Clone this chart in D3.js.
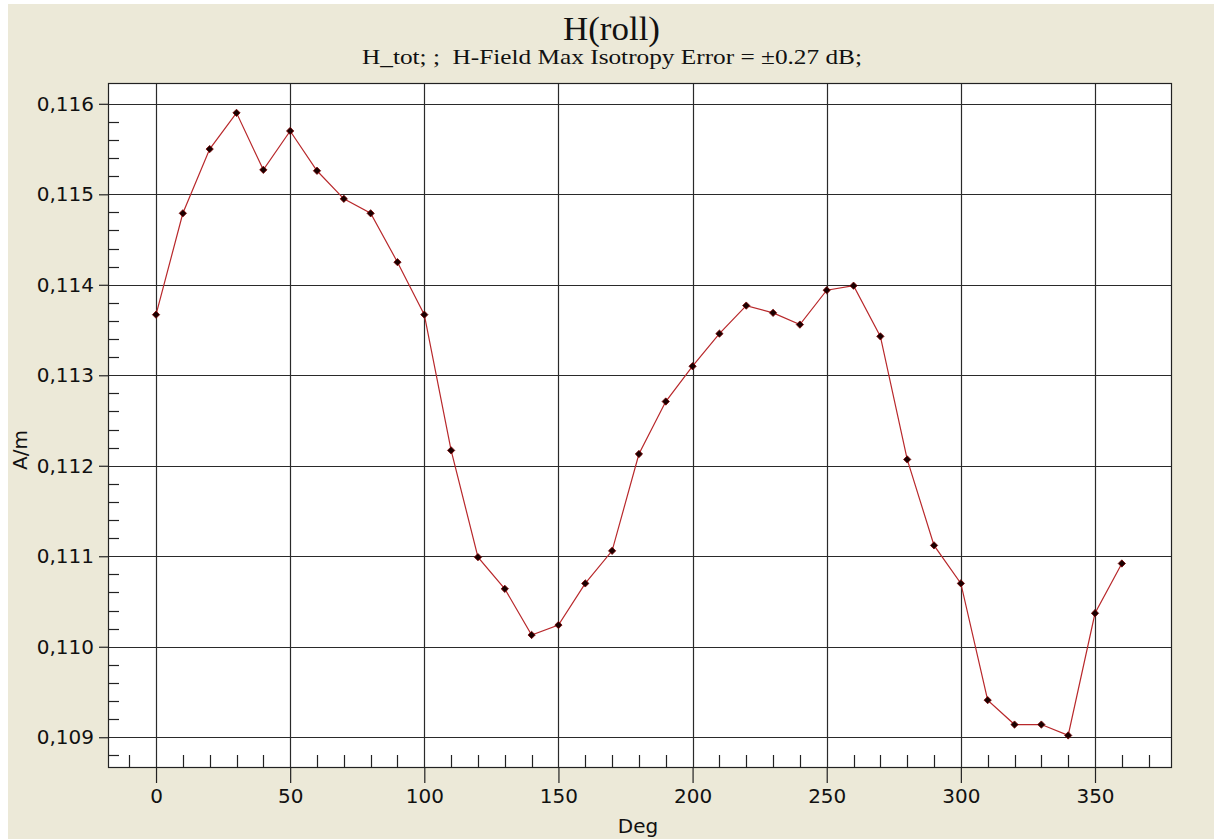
<!DOCTYPE html>
<html><head><meta charset="utf-8">
<script src="https://cdn.jsdelivr.net/npm/d3@7"></script>
<style>
html,body{margin:0;padding:0;background:#fff;}
svg{display:block;}
</style></head>
<body>
<script>
const degrees = [0,10,20,30,40,50,60,70,80,90,100,110,120,130,140,150,160,170,180,190,200,210,220,230,240,250,260,270,280,290,300,310,320,330,340,350,360];
const hValues = [0.11367,0.11479,0.11550,0.11590,0.11527,0.11570,0.11526,0.11495,0.11479,0.11425,0.11367,0.11217,0.11099,0.11064,0.11013,0.11024,0.11070,0.11106,0.11213,0.11271,0.11310,0.11346,0.11377,0.11369,0.11356,0.11394,0.11399,0.11343,0.11207,0.11112,0.11070,0.10941,0.10914,0.10914,0.10902,0.11037,0.11092];
const xTicks = [0,50,100,150,200,250,300,350];
const yTicks = [0.109,0.110,0.111,0.112,0.113,0.114,0.115,0.116];
const titleText = "H(roll)";
const subtitleText = "H_tot; ;  H-Field Max Isotropy Error = \u00B10.27 dB;";
const xLabel = "Deg";
const yLabel = "A/m";

const W = 1214, H = 839;
const svg = d3.select("body").append("svg").attr("width", W).attr("height", H);
svg.append("rect").attr("x",8).attr("y",4).attr("width",W-8).attr("height",H-4).attr("fill","#ECE9D8");

const L = 108, R = 1172, T = 83, B = 768;
const x = d3.scaleLinear().domain([-17.9, 378.7]).range([L, R]);
const y = d3.scaleLinear().domain([0.10866, 0.11623]).range([B, T]);

svg.append("rect").attr("x",L).attr("y",T).attr("width",R-L).attr("height",B-T).attr("fill","#fff");

const g = svg.append("g");
g.selectAll(".gx").data(xTicks).enter().append("line")
  .attr("x1",d=>Math.round(x(d))+0.5).attr("x2",d=>Math.round(x(d))+0.5)
  .attr("y1",T).attr("y2",B).attr("stroke","#2a2a2a").attr("stroke-width",1.2);
g.selectAll(".gy").data(yTicks).enter().append("line")
  .attr("y1",d=>Math.round(y(d))+0.5).attr("y2",d=>Math.round(y(d))+0.5)
  .attr("x1",L).attr("x2",R).attr("stroke","#2a2a2a").attr("stroke-width",1.2);

const xMinor = d3.range(-10, 371, 10).filter(d => d % 50 !== 0);
g.selectAll(".mx").data(xMinor).enter().append("line")
  .attr("x1",d=>Math.round(x(d))+0.5).attr("x2",d=>Math.round(x(d))+0.5)
  .attr("y1",B).attr("y2",B-13).attr("stroke","#222").attr("stroke-width",1.2);
const yMinor = d3.range(1088, 1162, 2).map(v=>v/10000).filter(v => Math.round(v*10000) % 10 !== 0);
g.selectAll(".my").data(yMinor).enter().append("line")
  .attr("y1",d=>Math.round(y(d))+0.5).attr("y2",d=>Math.round(y(d))+0.5)
  .attr("x1",L).attr("x2",L+11).attr("stroke","#222").attr("stroke-width",1.2);

const xAxis = d3.axisBottom(x).tickValues(xTicks).tickSize(15).tickPadding(6).tickFormat(d3.format("d"));
const xg = svg.append("g").attr("transform",`translate(0,${B})`).call(xAxis);
xg.select(".domain").remove();
const yFmt = d => d3.format(".3f")(d).replace(".", ",");
const yAxis = d3.axisLeft(y).tickValues(yTicks).tickSize(9).tickPadding(5).tickFormat(yFmt);
const yg = svg.append("g").attr("transform",`translate(${L},0)`).call(yAxis);
yg.select(".domain").remove();
[xg,yg].forEach(a=>{
  a.selectAll("line").attr("stroke","#222").attr("stroke-width",1.2);
  a.selectAll("text").attr("fill","#111").style("font-family","'DejaVu Sans'").style("font-size","20px");
});

svg.append("rect").attr("x",L+0.5).attr("y",T+0.5).attr("width",R-L-1).attr("height",B-T-1)
  .attr("fill","none").attr("stroke","#222").attr("stroke-width",1.2);

const line = d3.line().x((d,i)=>x(degrees[i])).y(d=>y(d));
svg.append("path").datum(hValues).attr("d",line).attr("fill","none").attr("stroke","#b8282b").attr("stroke-width",1.2);
const sym = d3.symbol().type(d3.symbolDiamond2).size(34);
svg.selectAll(".pt").data(hValues).enter().append("path")
  .attr("d",sym).attr("transform",(d,i)=>`translate(${x(degrees[i])},${y(d)})`)
  .attr("fill","#1a0000").attr("stroke","#7a0000").attr("stroke-width",0.8);

svg.append("text").attr("x",611.5).attr("y",40).attr("text-anchor","middle")
  .attr("textLength",97).attr("lengthAdjust","spacingAndGlyphs")
  .style("font-family","'Liberation Serif'").style("font-size","34px").attr("fill","#111").text(titleText);
svg.append("text").attr("x",612).attr("y",64).attr("text-anchor","middle")
  .attr("textLength",500).attr("lengthAdjust","spacingAndGlyphs")
  .style("font-family","'Liberation Serif'").style("font-size","21px").style("white-space","pre")
  .attr("xml:space","preserve").attr("fill","#111").text(subtitleText);
svg.append("text").attr("x",638).attr("y",833).attr("text-anchor","middle")
  .style("font-family","'DejaVu Sans'").style("font-size","20px").attr("fill","#111").text(xLabel);
svg.append("text").attr("transform","translate(27,450) rotate(-90)").attr("text-anchor","middle")
  .style("font-family","'DejaVu Sans'").style("font-size","20px").attr("fill","#111").text(yLabel);
</script>
</body></html>
